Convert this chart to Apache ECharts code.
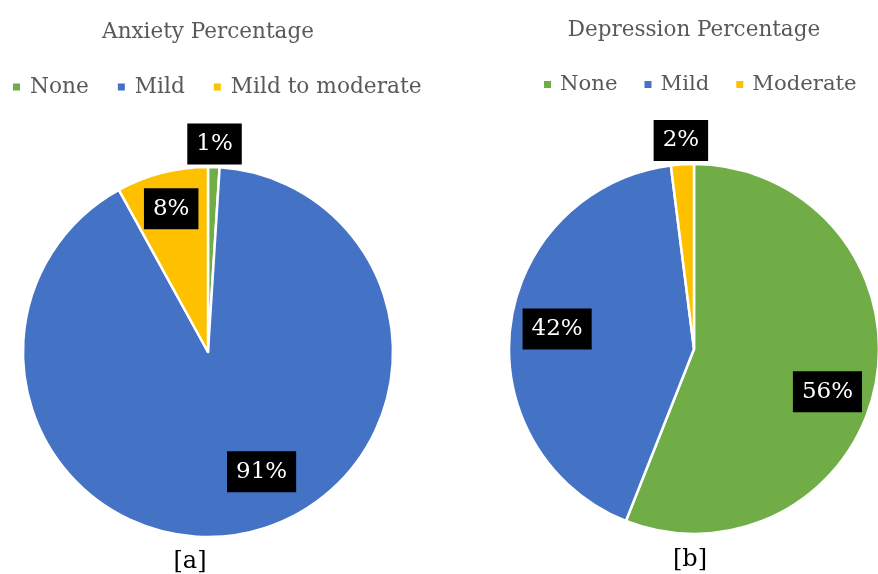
<!DOCTYPE html>
<html>
<head>
<meta charset="utf-8">
<script src="https://cdn.jsdelivr.net/npm/echarts@6/dist/echarts.min.js"></script>
<style>html,body{margin:0;padding:0;background:#fff}#c{width:878px;height:574px}</style>
</head>
<body>
<div id="c"></div>
<script>
const anxietyNames = ['None', 'Mild', 'Mild to moderate'];
const anxietyValues = [1, 91, 8];
const depressionNames = ['None', 'Mild', 'Moderate'];
const depressionValues = [56, 42, 2];
const titles = ['Anxiety Percentage', 'Depression Percentage'];
const captions = ['[a]', '[b]'];

const COLORS = { 'None': '#70AD47', 'Mild': '#4472C4', 'Mild to moderate': '#FFC000', 'Moderate': '#FFC000' };
const FONT = 'DejaVu Serif';

function toData(names, values) {
  return names.map((n, i) => ({ name: n, value: values[i], itemStyle: { color: COLORS[n] } }));
}

function mainPie(names, values, center) {
  return {
    type: 'pie', center: center, radius: 185, startAngle: 90, clockwise: true,
    avoidLabelOverlap: false, silent: true,
    itemStyle: { borderColor: '#fff', borderWidth: 2.5 },
    label: { show: false }, labelLine: { show: false },
    emphasis: { disabled: true },
    data: toData(names, values)
  };
}

// transparent ring used only to place a slice's label along its mid-angle
function labelPie(names, values, center, ring, showIdx, nudge) {
  return {
    type: 'pie', center: center, radius: ring, startAngle: 90, clockwise: true,
    avoidLabelOverlap: false, silent: true, legendHoverLink: false,
    itemStyle: { color: 'rgba(0,0,0,0)', borderWidth: 0 },
    labelLine: { show: false },
    emphasis: { disabled: true },
    labelLayout: nudge ? function () { return { dx: nudge[0], dy: nudge[1] }; } : null,
    label: {
      show: true, position: 'inside',
      formatter: p => p.value + '%',
      color: '#fff', backgroundColor: '#000',
      fontFamily: FONT, fontSize: 23, lineHeight: 26,
      padding: [8, 9, 7, 9]
    },
    data: names.map((n, i) => ({
      name: n, value: values[i],
      itemStyle: { color: 'rgba(0,0,0,0)' },
      label: { show: showIdx.indexOf(i) >= 0 }
    }))
  };
}

const cA = [208, 352], cB = [694, 349];

const chart = echarts.init(document.getElementById('c'), null, { renderer: 'canvas' });
chart.setOption({
  backgroundColor: '#fff',
  animation: false,
  title: [
    { text: titles[0], left: 203, top: 16, textAlign: 'center',
      textStyle: { fontFamily: FONT, fontSize: 21.5, fontWeight: 'normal', color: '#595959' } },
    { text: titles[1], left: 689, top: 14, textAlign: 'center',
      textStyle: { fontFamily: FONT, fontSize: 21.5, fontWeight: 'normal', color: '#595959' } },
    { text: captions[0], left: 185, top: 545, textAlign: 'center',
      textStyle: { fontFamily: FONT, fontSize: 24, fontWeight: 'normal', color: '#000' } },
    { text: captions[1], left: 685, top: 543, textAlign: 'center',
      textStyle: { fontFamily: FONT, fontSize: 24, fontWeight: 'normal', color: '#000' } }
  ],
  legend: [
    { data: anxietyNames, left: 6, top: 71, icon: 'rect', itemWidth: 9, itemHeight: 9, itemGap: 27,
      selectedMode: false,
      textStyle: { fontFamily: FONT, fontSize: 21.7, color: '#595959', padding: [0, 0, 0, 4] } },
    { data: depressionNames, left: 537, top: 69, icon: 'rect', itemWidth: 9, itemHeight: 9, itemGap: 25,
      selectedMode: false,
      textStyle: { fontFamily: FONT, fontSize: 21.2, color: '#595959', padding: [0, 0, 0, 3] } }
  ],
  series: [
    mainPie(anxietyNames, anxietyValues, cA),
    mainPie(depressionNames, depressionValues, cB),
    labelPie(anxietyNames, anxietyValues, cA, [195, 215], [0]),
    labelPie(anxietyNames, anxietyValues, cA, [135, 155], [2]),
    labelPie(anxietyNames, anxietyValues, cA, [118, 138], [1], [25, -8]),
    labelPie(depressionNames, depressionValues, cB, [130, 150], [1], [5, -2]),
    labelPie(depressionNames, depressionValues, cB, [130, 150], [0], [-7, 16]),
    labelPie(depressionNames, depressionValues, cB, [196, 216], [2])
  ]
});
</script>
</body>
</html>
